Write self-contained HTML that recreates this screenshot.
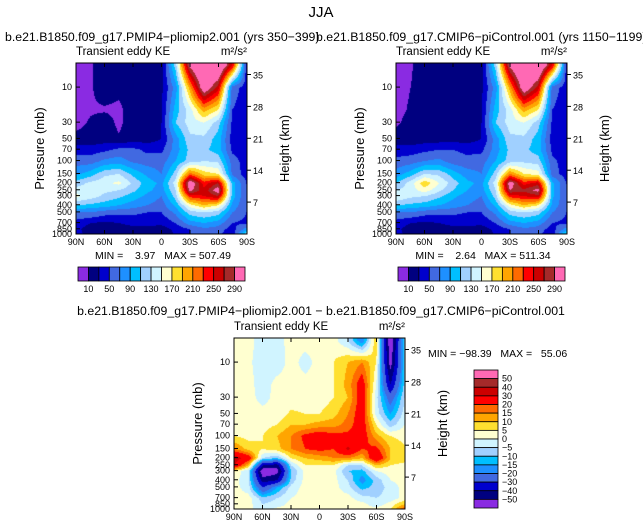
<!DOCTYPE html>
<html><head><meta charset="utf-8">
<style>
body{margin:0;background:#fff;}
#wrap{position:relative;width:643px;height:530px;overflow:hidden;font-family:"Liberation Sans",sans-serif;}
canvas{position:absolute;}
svg{position:absolute;left:0;top:0;}
text{font-family:"Liberation Sans",sans-serif;fill:#000;white-space:pre;}
</style></head><body>
<div id="wrap">
<canvas id="c1" width="171" height="171" style="left:76px;top:63px"></canvas>
<canvas id="c2" width="171" height="171" style="left:396px;top:63px"></canvas>
<canvas id="c3" width="171" height="171" style="left:234px;top:338px"></canvas>
<svg id="ov" width="643" height="530"></svg>
</div>
<script>
const lats=["90N","75N","60N","45N","30N","15N","0","15S","30S","45S","60S","75S","90S"];
const levelsP=[5,10,20,30,50,70,100,150,200,250,300,400,500,700,850,1000];
const keLevels=[10,30,50,70,90,110,130,150,170,190,210,230,250,270,290];
const keColors=["#8a2be2","#000080","#0000cd","#4169e1","#1e90ff","#00bfff","#a0d0ff","#d0f4ff","#ffffd0","#ffe030","#ffa500","#ff6a00","#ff0000","#cc0000","#a52a2a","#ff69b4"];
const diffLevels=[-50,-40,-30,-20,-15,-10,-5,0,5,10,15,20,30,40,50];
const diffColors=keColors;
const keTickLabels=[10,50,90,130,170,210,250,290];
const plioField=[
[4,8,20,20,20,20,22,120,300,350,350,250,40],
[4,8,20,15,20,20,25,80,200,320,260,60,40],
[4,8,8,6,20,20,28,100,140,200,170,50,40],
[5,12,18,6,20,20,30,110,140,150,120,45,40],
[15,15,20,12,22,20,30,80,125,125,100,40,40],
[40,40,45,55,55,45,45,80,115,115,100,45,35],
[60,60,75,80,65,60,60,90,120,130,125,60,40],
[85,100,125,130,105,85,70,120,220,180,170,65,40],
[120,135,145,155,125,100,85,140,320,240,270,100,50],
[140,140,135,130,115,95,80,130,300,255,310,100,50],
[155,140,125,115,100,85,70,120,240,250,270,100,50],
[110,105,100,90,80,70,60,95,160,190,170,85,50],
[70,70,60,55,55,50,50,75,120,130,120,70,50],
[40,30,25,30,35,35,35,50,80,90,80,50,45],
[35,20,15,20,25,25,20,35,50,65,60,40,80],
[35,25,20,15,20,20,8,35,50,60,55,35,130]];
const ctrlField=[
[4,8,20,20,20,20,22,120,300,350,350,250,40],
[4,10,20,15,20,20,25,80,200,320,260,60,40],
[5,12,15,15,20,20,28,100,140,200,170,50,40],
[8,15,20,15,20,20,30,110,140,150,120,45,40],
[15,15,20,20,22,20,30,80,125,125,100,40,40],
[40,40,45,50,50,45,45,80,115,115,100,45,35],
[55,60,70,75,60,55,60,90,120,125,120,55,40],
[80,100,130,125,100,80,70,120,210,170,160,60,40],
[110,140,185,150,120,95,85,140,310,240,260,95,50],
[130,140,160,135,110,90,80,130,290,275,300,95,50],
[150,135,130,115,95,80,70,120,240,250,265,95,50],
[110,105,100,90,80,70,60,95,160,190,170,85,50],
[70,70,60,55,55,50,50,75,120,130,120,70,50],
[40,30,25,30,35,35,35,50,80,90,80,50,45],
[35,20,15,20,25,25,20,35,50,65,60,40,80],
[35,25,20,15,20,20,8,35,50,60,55,35,120]];
const diffField=[
[2,2,-3,-2,2,2,2,2,-5,-20,10,-60,-8],
[2,1,-3,-3,2,-2,2,5,10,15,5,-55,-10],
[2,2,-3,2,2,2,2,5,12,25,0,-40,-8],
[2,2,-2,2,2,2,2,5,10,25,-3,-25,-5],
[2,2,2,2,6,5,5,8,15,25,-2,-15,-3],
[2,2,3,5,10,10,12,13,17,25,5,-8,0],
[5,3,5,10,15,22,25,22,22,25,12,5,3],
[15,8,5,8,15,20,22,20,32,20,22,10,6],
[35,25,-5,-10,5,10,12,15,15,10,30,10,8],
[30,10,-40,-45,-5,5,5,5,-5,-5,10,5,3],
[5,-5,-60,-55,-10,2,3,2,-10,-12,0,2,2],
[2,-5,-45,-40,-8,2,2,2,-5,-18,-8,0,2],
[2,-3,-30,-15,-3,2,2,2,-3,-12,-8,-3,2],
[2,2,-8,-5,0,2,2,2,2,-3,-5,-3,2],
[2,2,-5,-3,2,2,2,2,2,2,-3,2,10],
[2,2,-4,2,2,2,2,2,2,2,2,5,20]];
const pTicks=[10,30,50,70,100,150,200,250,300,400,500,700,850,1000];
const zTicks=[7,14,21,28,35];
const latTicks=["90N","60N","30N","0","30S","60S","90S"];
const diffTickLabels=[50,40,30,20,15,10,5,0,-5,-10,-15,-20,-30,-40,-50];

const W=171,H=171,PTOP=4.7;
const lg=Math.log10;
function yOfP(p){return (lg(p)-lg(PTOP))/(3-lg(PTOP))*H;}
const rowY=levelsP.map(yOfP);
function sample(f,x,y){
  const fx=x/(W-1)*(lats.length-1);
  let i=Math.min(Math.floor(fx),lats.length-2); const tx=fx-i;
  let r=0,ty=0; if(y>rowY[0]){
    while(r<rowY.length-2&&rowY[r+1]<y)r++;
    ty=Math.min(1,(y-rowY[r])/(rowY[r+1]-rowY[r]));}
  const a=f[r][i]*(1-tx)+f[r][i+1]*tx, b=f[r+1][i]*(1-tx)+f[r+1][i+1]*tx;
  return a*(1-ty)+b*ty;
}
function hex(c){return [parseInt(c.substr(1,2),16),parseInt(c.substr(3,2),16),parseInt(c.substr(5,2),16)];}
function drawField(id,f,lev,cols){
  const ctx=document.getElementById(id).getContext('2d');
  const img=ctx.createImageData(W,H);const rgb=cols.map(hex);
  for(let y=0;y<H;y++)for(let x=0;x<W;x++){
    const v=sample(f,x,y);let k=0;while(k<lev.length&&v>=lev[k])k++;
    const c=rgb[k],o=(y*W+x)*4;img.data[o]=c[0];img.data[o+1]=c[1];img.data[o+2]=c[2];img.data[o+3]=255;}
  ctx.putImageData(img,0,0);
}
drawField('c1',plioField,keLevels,keColors);
drawField('c2',ctrlField,keLevels,keColors);
drawField('c3',diffField,diffLevels,diffColors);

const NS="http://www.w3.org/2000/svg",ov=document.getElementById('ov');
function el(tag,at,txt){const e=document.createElementNS(NS,tag);for(const k in at)e.setAttribute(k,at[k]);if(txt!==undefined)e.textContent=txt;ov.appendChild(e);return e;}
function txt(x,y,s,size,anchor,name,rot){const e=el('text',{x:x,y:y,'font-size':size,'text-anchor':anchor||'start'},s);
  if(rot)e.setAttribute('transform','rotate(-90 '+x+' '+y+')');
  
  return e;}
function axes(x0,y0,pfx){
  const r=el('rect',{x:x0,y:y0,width:W,height:H,fill:'none',stroke:'#000','stroke-width':1});
  
  
  pTicks.forEach(p=>{const y=y0+yOfP(p);
    el('line',{x1:x0,x2:x0+4,y1:y,y2:y,stroke:'#000'});
    txt(x0-4,y+3,String(p),9,'end',pfx+'-pressure-tick');});
  zTicks.forEach(z=>{const y=y0+yOfP(1000*Math.exp(-z/7));
    el('line',{x1:x0+W,x2:x0+W+4,y1:y,y2:y,stroke:'#000'});
    txt(x0+W+6,y+4,String(z),9,'start',pfx+'-height-tick');});
  latTicks.forEach((l,i)=>{const x=x0+i*W/6;
    el('line',{x1:x,x2:x,y1:y0+H,y2:y0+H-4,stroke:'#000'});
    el('line',{x1:x,x2:x,y1:y0,y2:y0+4,stroke:'#000'});
    txt(x,y0+H+11,l,9,'middle',pfx+'-lat-tick');});
  txt(x0-32,y0+H/2,"Pressure (mb)",13,'middle',pfx+'-y-axis-title',true);
  txt(x0+W+42,y0+H/2,"Height (km)",13,'middle',pfx+'-right-axis-title',true);
  txt(x0,y0-8,"Transient eddy KE",11.5,'start',pfx+'-subtitle');
  txt(x0+W,y0-8,"m²/s²",11.5,'end',pfx+'-units');
}
function hbar(x0,y0,pfx){
  const bw=(245-78)/16;
  keColors.forEach((c,i)=>{const r=el('rect',{x:x0+i*bw,y:y0,width:bw,height:14,fill:c,stroke:'#000','stroke-width':0.8});
    
    });
  keTickLabels.forEach((v,i)=>txt(x0+(1+2*i)*bw,y0+25,String(v),9,'middle',pfx+'-colorbar-label'));
}
txt(321,17,"JJA",15,'middle','figure-title');
txt(5,41,"b.e21.B1850.f09_g17.PMIP4−pliomip2.001 (yrs 350−399)",12.3,'start','plio-title');
txt(316,41,"b.e21.B1850.f09_g17.CMIP6−piControl.001 (yrs 1150−1199)",12.3,'start','picontrol-title');
axes(76,63,'plio');axes(396,63,'picontrol');axes(234,338,'diff');
txt(163,259,"MIN =    3.97   MAX = 507.49",10.5,'middle','plio-minmax');
txt(483,259,"MIN =    2.64   MAX = 511.34",10.5,'middle','picontrol-minmax');
hbar(78,267,'plio');hbar(398,267,'picontrol');
txt(321,315,"b.e21.B1850.f09_g17.PMIP4−pliomip2.001 − b.e21.B1850.f09_g17.CMIP6−piControl.001",12.3,'middle','diff-title');
txt(428,357,"MIN = −98.39   MAX =   55.06",10.5,'start','diff-minmax');
const dbh=(508-370)/16;
diffColors.slice().reverse().forEach((c,i)=>{const r=el('rect',{x:474,y:370+i*dbh,width:24,height:dbh,fill:c,stroke:'#000','stroke-width':0.8});
  
  });
diffTickLabels.forEach((v,i)=>txt(502,370+(i+1)*dbh+3,String(v).replace('-','−'),9,'start','diff-colorbar-label'));
</script>
</body></html>
